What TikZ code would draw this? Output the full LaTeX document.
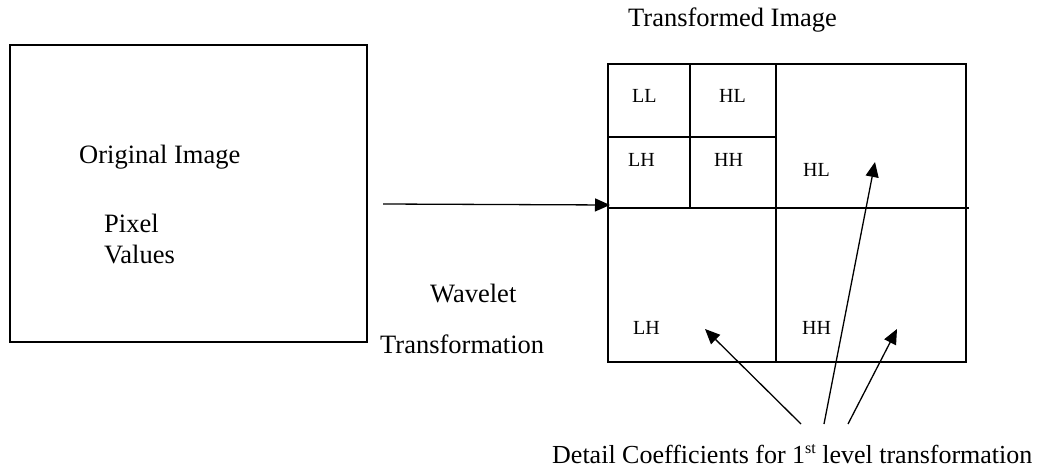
\documentclass[tikz,border=0pt]{standalone}
\usepackage{fontspec}
\setmainfont{Liberation Serif}
\usetikzlibrary{arrows.meta}
\begin{document}
\begin{tikzpicture}[x=1pt,y=-1pt,
  box/.style={line width=1.5pt},
  gridline/.style={line width=1.3pt},
  bigtxt/.style={anchor=base west,inner sep=0pt,font=\fontsize{26.5}{30}\selectfont},
  smalltxt/.style={anchor=base west,inner sep=0pt,font=\fontsize{20}{24}\selectfont},
  arr/.style={line width=1.3pt,-{Triangle[length=15pt,width=13pt]}}]
\useasboundingbox (0,0) rectangle (1050,468);
% original image box
\draw[box] (10,45) rectangle (367,342);
\node[bigtxt] (orig) at (79,164) {Original Image};
\node[bigtxt] (pix) at (104,233) {Pixel};
\node[bigtxt] (val) at (104,263) {Values};
% wavelet text
\node[bigtxt] (wav) at (430,302) {Wavelet};
\node[bigtxt] (tra) at (380,353) {Transformation};
% transformed grid
\node[bigtxt] (timg) at (628,27) {Transformed Image};
\draw[gridline] (608,64) rectangle (966,362);
\draw[gridline] (776,64) -- (776,362);
\draw[gridline] (608,208) -- (969,208);
\draw[gridline] (690,64) -- (690,208);
\draw[gridline] (608,137) -- (776,137);
\node[smalltxt] (ll) at (632,103) {LL};
\node[smalltxt] (hl1) at (719,103) {HL};
\node[smalltxt] (lh1) at (628,167) {LH};
\node[smalltxt] (hh1) at (714,167) {HH};
\node[smalltxt] (hl) at (803,177) {HL};
\node[smalltxt] (lh) at (633,334) {LH};
\node[smalltxt] (hh) at (802,334) {HH};
% main arrow
\coordinate (a0) at (383,204);
\coordinate (a1) at (610,205);
\draw[arr] (a0) -- (a1);
% detail text and arrows
\node[bigtxt,font=\fontsize{26}{30}\selectfont] (det) at (552,463) {Detail Coefficients for 1{\fontsize{16}{18}\selectfont\raisebox{10pt}{st}} level transformation};
\coordinate (s1) at (801,424);
\coordinate (s2) at (824,424);
\coordinate (s3) at (848,424);
\coordinate (t1) at (705,329);
\coordinate (t2) at (875,162);
\coordinate (t3) at (897,329);
\draw[arr] (s1) -- (t1);
\draw[arr] (s2) -- (t2);
\draw[arr] (s3) -- (t3);
\end{tikzpicture}
\end{document}
